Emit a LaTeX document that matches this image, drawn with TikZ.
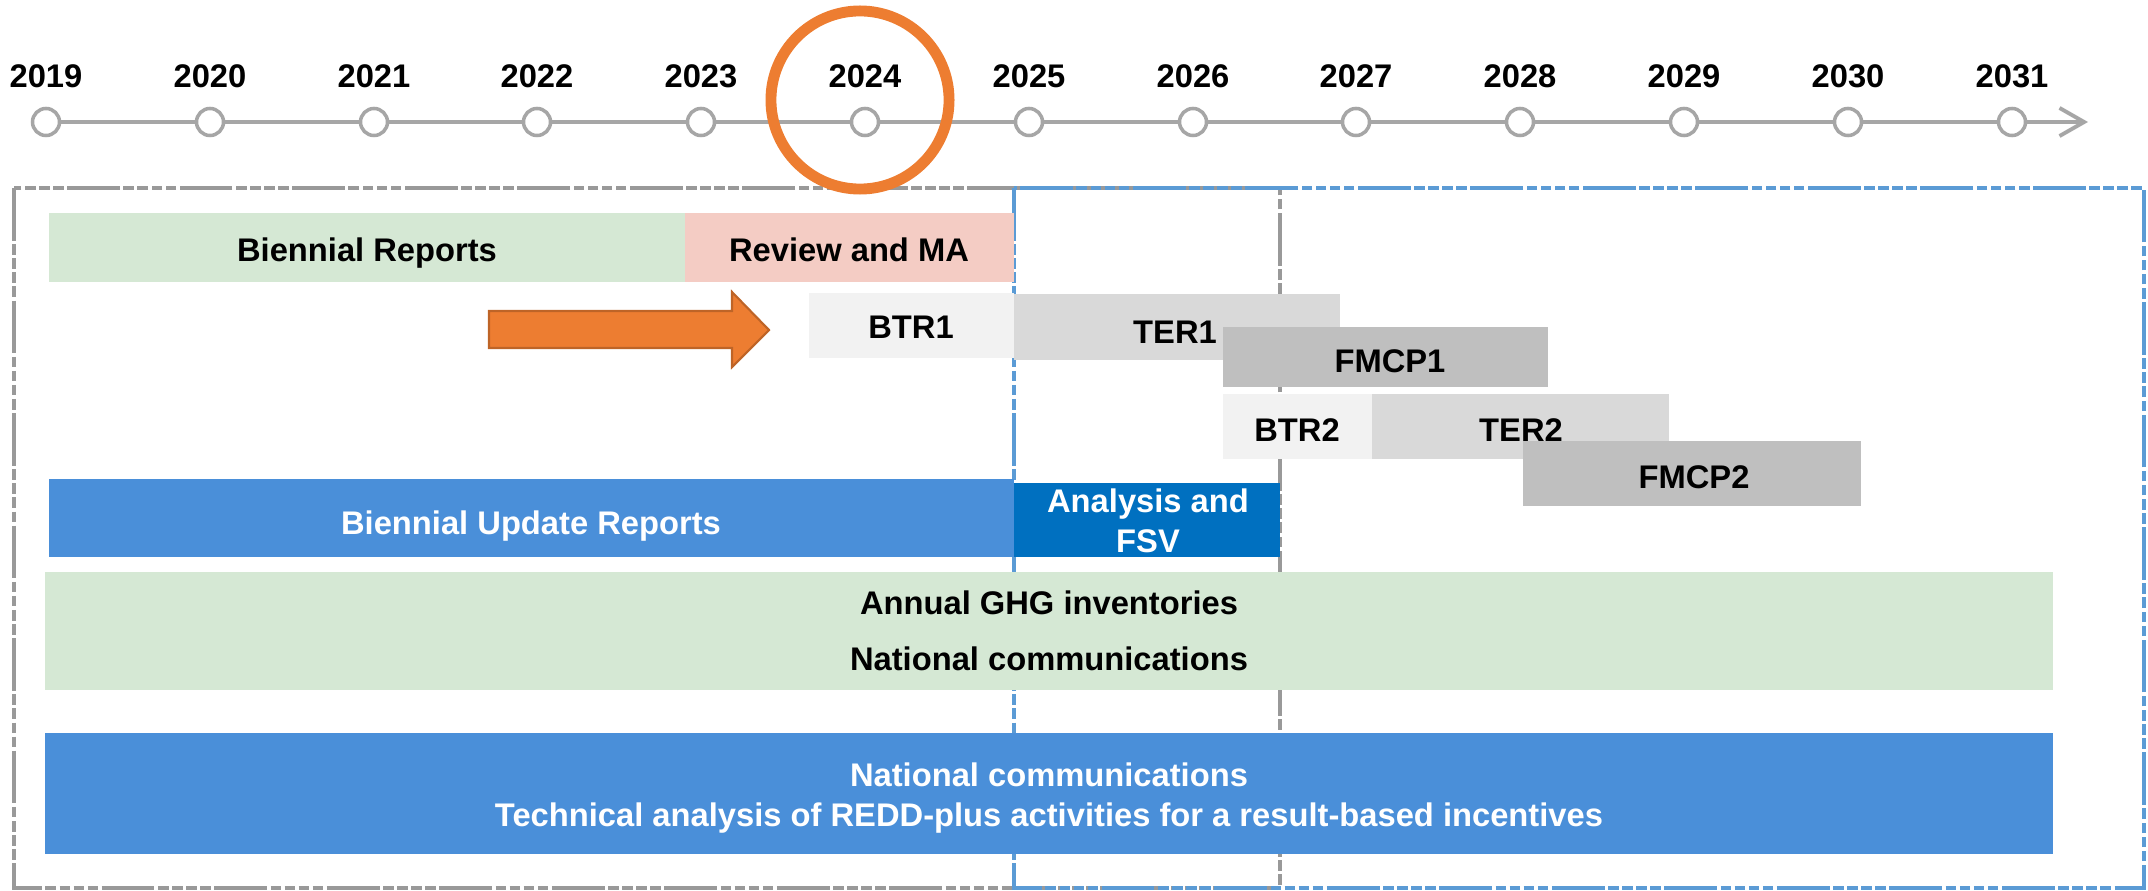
\documentclass[tikz,border=0pt]{standalone}
\usepackage{fontspec}
\setmainfont{Liberation Sans}
\usetikzlibrary{arrows.meta}
\definecolor{brgreen}{HTML}{D5E8D4}
\definecolor{mapink}{HTML}{F4CCC4}
\definecolor{btrgray}{HTML}{F2F2F2}
\definecolor{tergray}{HTML}{D9D9D9}
\definecolor{fmcpgray}{HTML}{BFBFBF}
\definecolor{burblue}{HTML}{4A8FD9}
\definecolor{fsvblue}{HTML}{0070C0}
\definecolor{axisgray}{HTML}{A6A6A6}
\definecolor{framegray}{HTML}{999999}
\definecolor{frameblue}{HTML}{5B9BD5}
\definecolor{markorange}{HTML}{ED7D31}
\begin{document}
\begin{tikzpicture}[x=0.01cm,y=-0.01cm]
\tikzstyle{every node}+=[inner sep=0pt, text depth=0.25ex, font=\fontsize{9.3}{11.2}\selectfont\bfseries]
\tikzstyle{framedash}=[line width=1pt, dash pattern=on 15pt off 1pt on 3pt off 1pt on 3pt off 1pt on 3pt off 1pt on 3pt off 1pt]
\tikzstyle{yeardot}=[circle, draw=axisgray, fill=white, line width=1pt, minimum size=0.27cm]
\tikzstyle{onblue}=[text=white, align=center]
\useasboundingbox (0,0) rectangle (2148,891);
\draw [framegray, framedash] (14,188) rectangle (1280,888);
\draw [frameblue, framedash] (1014,188) rectangle (2144,888);
\coordinate (axisstart) at (46,122);
\coordinate (axisend) at (2088,122);
\draw [axisgray, line width=1.1pt, -{Straight Barb[length=7pt,width=8pt]}] (axisstart) -- (axisend);
\draw (46,122) node [yeardot] (d2019) {};
\draw (46,78) node (y2019) {2019};
\draw (210,122) node [yeardot] (d2020) {};
\draw (210,78) node (y2020) {2020};
\draw (374,122) node [yeardot] (d2021) {};
\draw (374,78) node (y2021) {2021};
\draw (537,122) node [yeardot] (d2022) {};
\draw (537,78) node (y2022) {2022};
\draw (701,122) node [yeardot] (d2023) {};
\draw (701,78) node (y2023) {2023};
\draw (865,122) node [yeardot] (d2024) {};
\draw (865,78) node (y2024) {2024};
\draw (1029,122) node [yeardot] (d2025) {};
\draw (1029,78) node (y2025) {2025};
\draw (1193,122) node [yeardot] (d2026) {};
\draw (1193,78) node (y2026) {2026};
\draw (1356,122) node [yeardot] (d2027) {};
\draw (1356,78) node (y2027) {2027};
\draw (1520,122) node [yeardot] (d2028) {};
\draw (1520,78) node (y2028) {2028};
\draw (1684,122) node [yeardot] (d2029) {};
\draw (1684,78) node (y2029) {2029};
\draw (1848,122) node [yeardot] (d2030) {};
\draw (1848,78) node (y2030) {2030};
\draw (2012,122) node [yeardot] (d2031) {};
\draw (2012,78) node (y2031) {2031};
\fill [brgreen] (49,213) rectangle (685,282);
\draw (367,252) node (br) {Biennial Reports};
\fill [mapink] (685,213) rectangle (1014,282);
\draw (849,252) node (rma) {Review and MA};
\fill [btrgray] (809,293) rectangle (1014,358);
\draw (911,330) node (btr1) {BTR1};
\fill [tergray] (1014,294) rectangle (1340,360);
\draw (1175,335) node (ter1) {TER1};
\fill [fmcpgray] (1223,327) rectangle (1548,387);
\draw (1390,363) node (fmcp1) {FMCP1};
\fill [btrgray] (1223,394) rectangle (1372,459);
\draw (1297,432) node (btr2) {BTR2};
\fill [tergray] (1372,394) rectangle (1669,459);
\draw (1521,432) node (ter2) {TER2};
\fill [fmcpgray] (1523,441) rectangle (1861,506);
\draw (1694,479) node (fmcp2) {FMCP2};
\fill [burblue] (49,479) rectangle (1014,557);
\draw (531,525) node [onblue] (bur) {Biennial Update Reports};
\fill [fsvblue] (1014,483) rectangle (1280,557);
\draw (1148,523) node [onblue] (fsv) {Analysis and\\FSV};
\fill [brgreen] (45,572) rectangle (2053,690);
\draw (1049,633) node [align=center] (ghg) {Annual GHG inventories\\[4.7pt]National communications};
\fill [burblue] (45,733) rectangle (2053,854);
\draw (1049,797) node [onblue] (redd) {National communications\\Technical analysis of REDD-plus activities for a result-based incentives};
\filldraw [fill=markorange, draw=markorange!80!black, line width=0.6pt] (489,311) -- (732,311) -- (732,292) -- (769,330) -- (732,367) -- (732,348) -- (489,348) -- cycle;
\draw [markorange, line width=3.1pt] (860,100) ellipse [x radius=0.89cm, y radius=0.89cm];
\end{tikzpicture}
\end{document}
